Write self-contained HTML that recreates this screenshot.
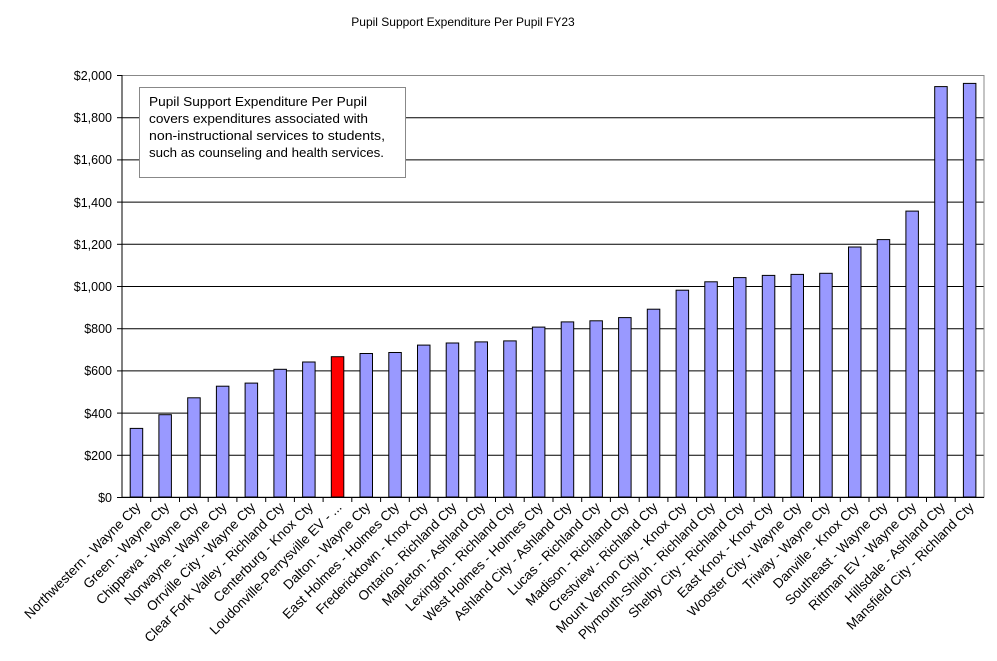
<!DOCTYPE html>
<html><head><meta charset="utf-8"><style>
html,body{margin:0;padding:0;background:#fff;}
svg{display:block;font-family:"Liberation Sans",Arial,sans-serif;}
</style></head><body>
<svg width="997" height="661" viewBox="0 0 997 661" xmlns="http://www.w3.org/2000/svg">
<text x="463" y="26" font-size="12" text-anchor="middle">Pupil Support  Expenditure  Per Pupil FY23</text>
<g stroke="#000" stroke-width="1">
<line x1="122" y1="455.3" x2="984" y2="455.3"/>
<line x1="122" y1="413.1" x2="984" y2="413.1"/>
<line x1="122" y1="370.9" x2="984" y2="370.9"/>
<line x1="122" y1="328.7" x2="984" y2="328.7"/>
<line x1="122" y1="286.5" x2="984" y2="286.5"/>
<line x1="122" y1="244.3" x2="984" y2="244.3"/>
<line x1="122" y1="202.1" x2="984" y2="202.1"/>
<line x1="122" y1="159.9" x2="984" y2="159.9"/>
<line x1="122" y1="117.7" x2="984" y2="117.7"/>
</g>
<rect x="122" y="75.5" width="862" height="421.5" fill="none" stroke="#888" stroke-width="1"/>
<g stroke="#000">
<line x1="122" y1="75" x2="122" y2="497.5"/>
<line x1="122" y1="497.5" x2="984" y2="497.5"/>
<line x1="117" y1="75.5" x2="122" y2="75.5"/>
<line x1="117" y1="117.7" x2="122" y2="117.7"/>
<line x1="117" y1="159.9" x2="122" y2="159.9"/>
<line x1="117" y1="202.1" x2="122" y2="202.1"/>
<line x1="117" y1="244.3" x2="122" y2="244.3"/>
<line x1="117" y1="286.5" x2="122" y2="286.5"/>
<line x1="117" y1="328.7" x2="122" y2="328.7"/>
<line x1="117" y1="370.9" x2="122" y2="370.9"/>
<line x1="117" y1="413.1" x2="122" y2="413.1"/>
<line x1="117" y1="455.3" x2="122" y2="455.3"/>
<line x1="117" y1="497.5" x2="122" y2="497.5"/>
</g>
<g stroke="#000" stroke-width="1">
<line x1="150.7" y1="497" x2="150.7" y2="502"/><line x1="179.5" y1="497" x2="179.5" y2="502"/><line x1="208.2" y1="497" x2="208.2" y2="502"/><line x1="236.9" y1="497" x2="236.9" y2="502"/><line x1="265.7" y1="497" x2="265.7" y2="502"/><line x1="294.4" y1="497" x2="294.4" y2="502"/><line x1="323.1" y1="497" x2="323.1" y2="502"/><line x1="351.8" y1="497" x2="351.8" y2="502"/><line x1="380.6" y1="497" x2="380.6" y2="502"/><line x1="409.3" y1="497" x2="409.3" y2="502"/><line x1="438" y1="497" x2="438" y2="502"/><line x1="466.8" y1="497" x2="466.8" y2="502"/><line x1="495.5" y1="497" x2="495.5" y2="502"/><line x1="524.2" y1="497" x2="524.2" y2="502"/><line x1="553" y1="497" x2="553" y2="502"/><line x1="581.7" y1="497" x2="581.7" y2="502"/><line x1="610.4" y1="497" x2="610.4" y2="502"/><line x1="639.2" y1="497" x2="639.2" y2="502"/><line x1="667.9" y1="497" x2="667.9" y2="502"/><line x1="696.6" y1="497" x2="696.6" y2="502"/><line x1="725.3" y1="497" x2="725.3" y2="502"/><line x1="754.1" y1="497" x2="754.1" y2="502"/><line x1="782.8" y1="497" x2="782.8" y2="502"/><line x1="811.5" y1="497" x2="811.5" y2="502"/><line x1="840.3" y1="497" x2="840.3" y2="502"/><line x1="869" y1="497" x2="869" y2="502"/><line x1="897.7" y1="497" x2="897.7" y2="502"/><line x1="926.5" y1="497" x2="926.5" y2="502"/><line x1="955.2" y1="497" x2="955.2" y2="502"/>
</g>
<g font-size="12.5" text-anchor="end" fill="#000">
<text x="112" y="80">$2,000</text>
<text x="112" y="122">$1,800</text>
<text x="112" y="164">$1,600</text>
<text x="112" y="207">$1,400</text>
<text x="112" y="249">$1,200</text>
<text x="112" y="291">$1,000</text>
<text x="112" y="333">$800</text>
<text x="112" y="375">$600</text>
<text x="112" y="418">$400</text>
<text x="112" y="460">$200</text>
<text x="112" y="502">$0</text>
</g>
<g fill="#9999FF" stroke="#000" stroke-width="1">
<rect x="130.2" y="428.4" width="12.5" height="68.6"/>
<rect x="158.9" y="414.7" width="12.5" height="82.3"/>
<rect x="187.7" y="397.8" width="12.5" height="99.2"/>
<rect x="216.4" y="386.2" width="12.5" height="110.8"/>
<rect x="245.1" y="383.1" width="12.5" height="113.9"/>
<rect x="273.9" y="369.3" width="12.5" height="127.7"/>
<rect x="302.6" y="362" width="12.5" height="135"/>
<rect x="331.3" y="356.7" width="12.5" height="140.3" fill="#FF0000"/>
<rect x="360" y="353.5" width="12.5" height="143.5"/>
<rect x="388.8" y="352.5" width="12.5" height="144.5"/>
<rect x="417.5" y="345.1" width="12.5" height="151.9"/>
<rect x="446.2" y="343" width="12.5" height="154"/>
<rect x="475" y="341.9" width="12.5" height="155.1"/>
<rect x="503.7" y="340.9" width="12.5" height="156.1"/>
<rect x="532.4" y="327.1" width="12.5" height="169.9"/>
<rect x="561.2" y="321.9" width="12.5" height="175.1"/>
<rect x="589.9" y="320.8" width="12.5" height="176.2"/>
<rect x="618.6" y="317.6" width="12.5" height="179.4"/>
<rect x="647.3" y="309.2" width="12.5" height="187.8"/>
<rect x="676.1" y="290.2" width="12.5" height="206.8"/>
<rect x="704.8" y="281.8" width="12.5" height="215.2"/>
<rect x="733.5" y="277.6" width="12.5" height="219.4"/>
<rect x="762.3" y="275.4" width="12.5" height="221.6"/>
<rect x="791" y="274.4" width="12.5" height="222.6"/>
<rect x="819.7" y="273.3" width="12.5" height="223.7"/>
<rect x="848.5" y="247" width="12.5" height="250"/>
<rect x="877.2" y="239.6" width="12.5" height="257.4"/>
<rect x="905.9" y="211.1" width="12.5" height="285.9"/>
<rect x="934.7" y="86.6" width="12.5" height="410.4"/>
<rect x="963.4" y="83.4" width="12.5" height="413.6"/>
</g>
<g font-size="13.5" text-anchor="end" fill="#000">
<text transform="translate(141.4,508) rotate(-45)">Northwestern - Wayne Cty</text>
<text transform="translate(170.1,508) rotate(-45)">Green - Wayne Cty</text>
<text transform="translate(198.9,508) rotate(-45)">Chippewa - Wayne Cty</text>
<text transform="translate(227.6,508) rotate(-45)">Norwayne - Wayne Cty</text>
<text transform="translate(256.3,508) rotate(-45)">Orrville City - Wayne Cty</text>
<text transform="translate(285.1,508) rotate(-45)">Clear Fork Valley - Richland Cty</text>
<text transform="translate(313.8,508) rotate(-45)">Centerburg - Knox Cty</text>
<text transform="translate(342.5,508) rotate(-45)">Loudonville-Perrysville EV - ...</text>
<text transform="translate(371.2,508) rotate(-45)">Dalton - Wayne Cty</text>
<text transform="translate(400,508) rotate(-45)">East Holmes - Holmes Cty</text>
<text transform="translate(428.7,508) rotate(-45)">Fredericktown - Knox Cty</text>
<text transform="translate(457.4,508) rotate(-45)">Ontario - Richland Cty</text>
<text transform="translate(486.2,508) rotate(-45)">Mapleton - Ashland Cty</text>
<text transform="translate(514.9,508) rotate(-45)">Lexington - Richland Cty</text>
<text transform="translate(543.6,508) rotate(-45)">West Holmes - Holmes Cty</text>
<text transform="translate(572.4,508) rotate(-45)">Ashland City - Ashland Cty</text>
<text transform="translate(601.1,508) rotate(-45)">Lucas - Richland Cty</text>
<text transform="translate(629.8,508) rotate(-45)">Madison - Richland Cty</text>
<text transform="translate(658.5,508) rotate(-45)">Crestview - Richland Cty</text>
<text transform="translate(687.3,508) rotate(-45)">Mount Vernon City - Knox Cty</text>
<text transform="translate(716,508) rotate(-45)">Plymouth-Shiloh - Richland Cty</text>
<text transform="translate(744.7,508) rotate(-45)">Shelby City - Richland Cty</text>
<text transform="translate(773.5,508) rotate(-45)">East Knox - Knox Cty</text>
<text transform="translate(802.2,508) rotate(-45)">Wooster City - Wayne Cty</text>
<text transform="translate(830.9,508) rotate(-45)">Triway - Wayne Cty</text>
<text transform="translate(859.7,508) rotate(-45)">Danville - Knox Cty</text>
<text transform="translate(888.4,508) rotate(-45)">Southeast - Wayne Cty</text>
<text transform="translate(917.1,508) rotate(-45)">Rittman EV - Wayne Cty</text>
<text transform="translate(945.9,508) rotate(-45)">Hillsdale - Ashland Cty</text>
<text transform="translate(974.6,508) rotate(-45)">Mansfield City - Richland Cty</text>
</g>
<rect x="139.5" y="87.5" width="266" height="90" fill="#fff" stroke="#888" stroke-width="1"/>
<g font-size="13" fill="#000">
<text x="149" y="106" textLength="218" lengthAdjust="spacingAndGlyphs">Pupil Support Expenditure Per Pupil</text>
<text x="149" y="123" textLength="219" lengthAdjust="spacingAndGlyphs">covers expenditures associated with</text>
<text x="149" y="140" textLength="236" lengthAdjust="spacingAndGlyphs">non-instructional services to students,</text>
<text x="149" y="157" textLength="235" lengthAdjust="spacingAndGlyphs">such as counseling and health services.</text>
</g>
</svg>
</body></html>
